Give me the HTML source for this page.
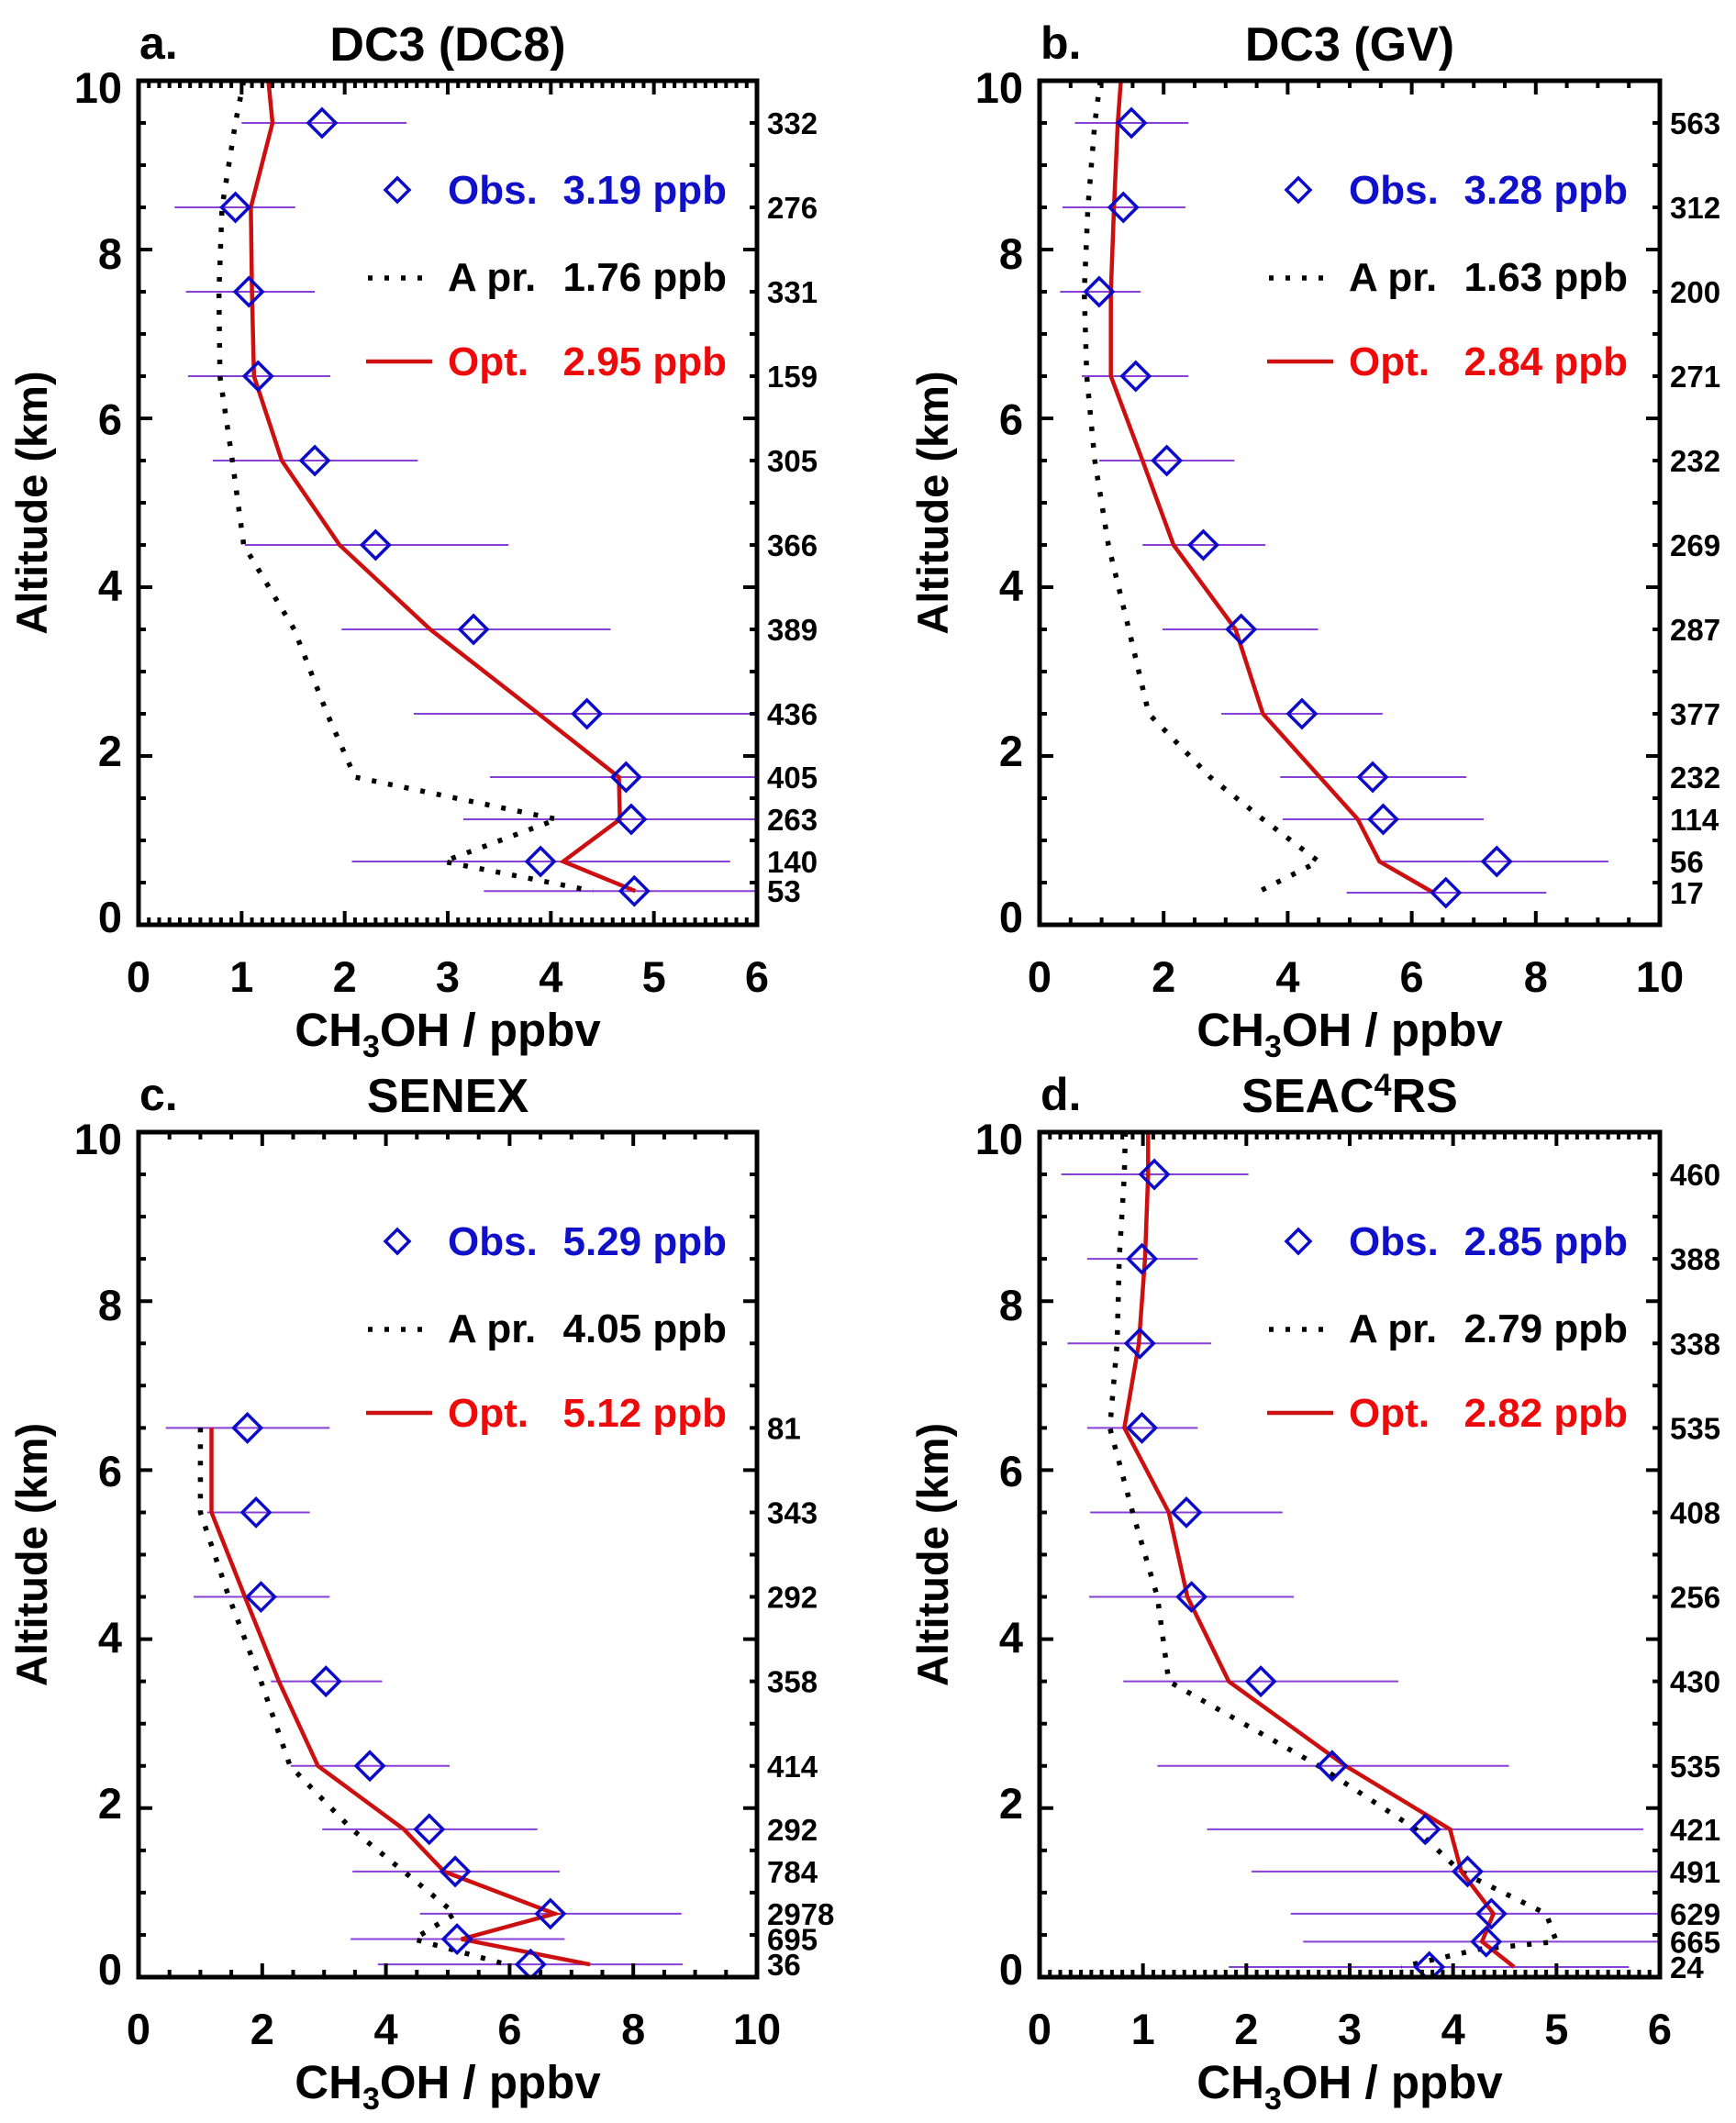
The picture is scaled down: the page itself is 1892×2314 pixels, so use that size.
<!DOCTYPE html>
<html><head><meta charset="utf-8"><title>CH3OH profiles</title>
<style>
html,body{margin:0;padding:0;background:#fff;}
svg{display:block;font-family:"Liberation Sans",Arial,sans-serif;font-weight:bold;}
</style></head>
<body>
<svg id="fig" width="1892" height="2314" viewBox="0 0 1892 2314" xmlns="http://www.w3.org/2000/svg"></svg>
<script>
// ---- Panel a: DC3 (DC8)
const aAlt = [9.5,8.5,7.5,6.5,5.5,4.5,3.5,2.5,1.75,1.25,0.75,0.4];
const aObs = [1.78,0.94,1.07,1.16,1.71,2.30,3.25,4.35,4.73,4.78,3.90,4.81];
const aLo  = [1.0,0.35,0.46,0.48,0.72,1.03,1.97,2.67,3.41,3.15,2.07,3.35];
const aHi  = [2.6,1.52,1.71,1.86,2.71,3.59,4.58,6.0,6.0,6.0,5.74,6.0];
const aN   = [332,276,331,159,305,366,389,436,405,263,140,53];
const aOptAlt = [10,9.5,8.5,7.5,6.5,5.5,4.5,3.5,2.5,1.75,1.25,0.75,0.4];
const aOpt = [1.26,1.30,1.09,1.10,1.12,1.39,1.95,2.83,3.88,4.66,4.67,4.12,4.82];
const aPriAlt = [10,9.5,8.5,7.5,6.5,5.5,4.5,3.5,2.5,1.75,1.25,0.75,0.4];
const aPri = [1.02,0.94,0.81,0.78,0.79,0.91,1.02,1.51,1.83,2.10,4.06,2.96,4.41];
const aLegend = ["3.19","1.76","2.95"];
// ---- Panel b: DC3 (GV)
const bAlt = [9.5,8.5,7.5,6.5,5.5,4.5,3.5,2.5,1.75,1.25,0.75,0.38];
const bObs = [1.48,1.35,0.96,1.55,2.05,2.64,3.25,4.23,5.37,5.54,7.37,6.55];
const bLo  = [0.57,0.37,0.33,0.68,0.96,1.66,1.98,2.93,3.88,3.92,5.54,4.95];
const bHi  = [2.40,2.35,1.63,2.40,3.14,3.64,4.49,5.53,6.88,7.16,9.17,8.17];
const bN   = [563,312,200,271,232,269,287,377,232,114,56,17];
const bOptAlt = [10,9.5,8.5,7.5,6.5,5.5,4.5,3.5,2.5,1.25,0.75,0.38];
const bOpt = [1.31,1.26,1.2,1.15,1.15,1.66,2.16,3.16,3.60,5.13,5.48,6.35];
const bPriAlt = [10,9.5,8.5,7.5,6.5,5.5,4.5,3.5,2.5,1.75,1.25,0.75,0.38];
const bPri = [0.98,0.89,0.78,0.72,0.76,0.89,1.11,1.44,1.76,2.75,3.6,4.5,3.5];
const bLegend = ["3.28","1.63","2.84"];
// ---- Panel c: SENEX
const cAlt = [6.5,5.5,4.5,3.5,2.5,1.75,1.25,0.75,0.45,0.15];
const cObs = [1.76,1.90,1.98,3.03,3.74,4.70,5.12,6.66,5.15,6.34];
const cLo  = [0.44,1.11,0.89,2.14,2.46,2.97,3.46,4.55,3.43,3.87];
const cHi  = [3.09,2.77,3.09,3.94,5.03,6.45,6.81,8.78,6.89,8.80];
const cN   = [81,343,292,358,414,292,784,2978,695,36];
const cOptAlt = [6.5,5.5,4.5,3.5,2.5,1.75,1.25,0.75,0.45,0.15];
const cOpt = [1.18,1.18,1.72,2.27,2.90,4.29,4.94,6.73,5.22,7.30];
const cPriAlt = [6.5,5.5,4.5,3.5,2.5,1.75,1.25,0.75,0.45,0.15];
const cPri = [1.0,1.0,1.46,1.98,2.45,3.45,4.29,5.12,4.45,5.95];
const cLegend = ["5.29","4.05","5.12"];
// ---- Panel d: SEAC4RS
const dAlt = [9.5,8.5,7.5,6.5,5.5,4.5,3.5,2.5,1.75,1.25,0.75,0.42,0.12];
const dObs = [1.11,0.99,0.97,0.99,1.42,1.47,2.14,2.83,3.73,4.14,4.37,4.32,3.77];
const dLo  = [0.21,0.46,0.27,0.46,0.49,0.48,0.81,1.14,1.62,2.05,2.43,2.55,1.83];
const dHi  = [2.02,1.53,1.66,1.53,2.35,2.46,3.47,4.54,5.84,6,6,6,5.70];
const dN   = [460,388,338,535,408,256,430,535,421,491,629,665,24];
const dOptAlt = [10,9.5,8.5,7.5,6.5,5.5,4.5,3.5,2.5,1.75,1.25,0.75,0.42,0.12];
const dOpt = [1.05,1.05,1.02,0.96,0.82,1.25,1.43,1.83,2.96,3.97,4.08,4.39,4.28,4.59];
const dPriAlt = [10,9.5,8.5,7.5,6.5,5.5,4.5,3.5,2.5,1.75,1.25,0.75,0.42,0.33,0.12];
const dPri = [0.83,0.82,0.77,0.75,0.68,0.90,1.14,1.25,2.70,3.64,4.07,4.90,5.0,4.25,3.5];
const dLegend = ["2.85","2.79","2.82"];

const NS = "http://www.w3.org/2000/svg";
const svg = document.getElementById("fig");
function mk(tag, attrs, parent){
  const e = document.createElementNS(NS, tag);
  for (const k in attrs) e.setAttribute(k, attrs[k]);
  (parent||svg).appendChild(e);
  return e;
}

function panel(p){
  const g = mk("g", {});
  
  
  const X = v => p.L + (v / p.xmax) * (p.R - p.L);
  const Y = v => p.B - (v / 10) * (p.B - p.T);
  const clipId = "clip" + p.id;
  const cp = mk("clipPath", {id: clipId}, g);
  mk("rect", {x: p.L, y: p.T, width: p.R - p.L, height: p.B - p.T}, cp);
  const plot = mk("g", {"clip-path": "url(#" + clipId + ")"}, g);

  for (let i = 0; i < p.alt.length; i++){
    const e = mk("line", {x1: X(p.lo[i]), x2: X(p.hi[i]), y1: Y(p.alt[i]), y2: Y(p.alt[i]), stroke: "#8a3fd6", "stroke-width": 2}, plot);
    
    
  }
  let d = "";
  for (let i = 0; i < p.priAlt.length; i++) d += (i ? "L" : "M") + X(p.pri[i]).toFixed(1) + " " + Y(p.priAlt[i]).toFixed(1);
  const pri = mk("path", {d: d, fill: "none", stroke: "#000", "stroke-width": 5.5, "stroke-dasharray": "5 13"}, plot);
  
  
  d = "";
  for (let i = 0; i < p.optAlt.length; i++) d += (i ? "L" : "M") + X(p.opt[i]).toFixed(1) + " " + Y(p.optAlt[i]).toFixed(1);
  const opt = mk("path", {d: d, fill: "none", stroke: "#cc1010", "stroke-width": 4.5, "stroke-linejoin": "miter"}, plot);
  
  
  for (let i = 0; i < p.alt.length; i++){
    const cx = X(p.obs[i]), cy = Y(p.alt[i]), s = 15;
    const dm = mk("path", {d: `M${cx-s} ${cy}L${cx} ${cy-s}L${cx+s} ${cy}L${cx} ${cy+s}Z`, fill: "none", stroke: "#0a0ac8", "stroke-width": 3.5}, plot);
    
    
  }
  let tk = "";
  const nx = Math.round(p.xmax / p.xminor);
  for (let i = 0; i <= nx; i++){
    const v = i * p.xminor, x = X(v);
    const major = Math.abs(v / p.xmajor - Math.round(v / p.xmajor)) < 1e-6;
    const len = major ? 15 : 8;
    tk += `M${x} ${p.B}V${p.B-len}M${x} ${p.T}V${p.T+len}`;
  }
  for (let i = 0; i <= 20; i++){
    const v = i * 0.5, y = Y(v);
    const len = (i % 4 === 0) ? 15 : 8;
    tk += `M${p.L} ${y}H${p.L+len}M${p.R} ${y}H${p.R-len}`;
  }
  const ticks = mk("path", {d: tk, stroke: "#000", "stroke-width": 4, fill: "none"}, g);
  
  
  const frame = mk("rect", {x: p.L, y: p.T, width: p.R - p.L, height: p.B - p.T, fill: "none", stroke: "#000", "stroke-width": 5}, g);
  
  

  for (let v = 0; v <= p.xmax + 1e-6; v += p.xmajor){
    const t = mk("text", {x: X(v), y: p.B + 73, "font-size": 47, "text-anchor": "middle", fill: "#000"}, g);
    t.textContent = String(v);
    
    
  }
  for (let v = 0; v <= 10; v += 2){
    const t = mk("text", {x: p.L - 18, y: Y(v) + 7 - (10 - v) * 1.6 + 17, "font-size": 47, "text-anchor": "end", fill: "#000"}, g);
    t.textContent = String(v);
    
    
  }
  for (let i = 0; i < p.alt.length; i++){
    const t = mk("text", {x: p.R + 11, y: Y(p.alt[i]) + 12, "font-size": 33, fill: "#000"}, g);
    t.textContent = String(p.n[i]);
    
    
  }
  const xt = mk("text", {x: (p.L + p.R) / 2, y: p.B + 132, "font-size": 51, "text-anchor": "middle", fill: "#000"}, g);
  xt.innerHTML = 'CH<tspan font-size="34" dy="12">3</tspan><tspan dy="-12">OH / ppbv</tspan>';
  
  
  const yc = p.L - 100, ym = (p.T + p.B) / 2;
  const yt = mk("text", {x: yc, y: ym, "font-size": 47, "text-anchor": "middle", transform: `rotate(-90 ${yc} ${ym})`, fill: "#000"}, g);
  yt.textContent = "Altitude (km)";
  
  
  const pl = mk("text", {x: p.L + 1, y: p.T - 24, "font-size": 50, fill: "#000"}, g);
  pl.textContent = p.id + ".";
  
  
  const ti = mk("text", {x: (p.L + p.R) / 2, y: p.T - 22, "font-size": 52, "text-anchor": "middle", fill: "#000"}, g);
  ti.innerHTML = p.title;
  
  

  const lx = p.L, ly = p.T;
  const rows = [ly + 134, ly + 229, ly + 321];
  const labels = ["Obs.", "A pr.", "Opt."];
  const colors = ["#1010c8", "#000", "#ee0a0a"];
  const leg = mk("g", {}, g);
  
  
  const s = 13, cx = lx + 282, cy = rows[0] - 15;
  const ld = mk("path", {d: `M${cx-s} ${cy}L${cx} ${cy-s}L${cx+s} ${cy}L${cx} ${cy+s}Z`, fill: "none", stroke: "#0a0ac8", "stroke-width": 3.5}, leg);
  
  
  const lp = mk("line", {x1: lx + 250, x2: lx + 320, y1: rows[1] - 14, y2: rows[1] - 14, stroke: "#000", "stroke-width": 5.5, "stroke-dasharray": "5 13"}, leg);
  
  
  const lo = mk("line", {x1: lx + 248, x2: lx + 320, y1: rows[2] - 15, y2: rows[2] - 15, stroke: "#cc1010", "stroke-width": 4.5}, leg);
  
  
  for (let r = 0; r < 3; r++){
    const t1 = mk("text", {x: lx + 337, y: rows[r], "font-size": 44, fill: colors[r]}, leg);
    t1.textContent = labels[r];
    
    
    const t2 = mk("text", {x: lx + 641, y: rows[r], "font-size": 44, "text-anchor": "end", fill: colors[r]}, leg);
    t2.textContent = p.legend[r] + " ppb";
    
    
  }
}

panel({id:"a", title:"DC3 (DC8)", L:151, R:825, T:88, B:1008, xmax:6, xmajor:1, xminor:0.1,
  alt:aAlt, obs:aObs, lo:aLo, hi:aHi, n:aN, optAlt:aOptAlt, opt:aOpt, priAlt:aPriAlt, pri:aPri, legend:aLegend});
panel({id:"b", title:"DC3 (GV)", L:1133, R:1809, T:88, B:1008, xmax:10, xmajor:2, xminor:0.5,
  alt:bAlt, obs:bObs, lo:bLo, hi:bHi, n:bN, optAlt:bOptAlt, opt:bOpt, priAlt:bPriAlt, pri:bPri, legend:bLegend});
panel({id:"c", title:"SENEX", L:151, R:825, T:1234, B:2155, xmax:10, xmajor:2, xminor:0.5,
  alt:cAlt, obs:cObs, lo:cLo, hi:cHi, n:cN, optAlt:cOptAlt, opt:cOpt, priAlt:cPriAlt, pri:cPri, legend:cLegend});
panel({id:"d", title:'SEAC<tspan font-size="34" dy="-18">4</tspan><tspan dy="18">RS</tspan>', L:1133, R:1809, T:1234, B:2155, xmax:6, xmajor:1, xminor:0.1,
  alt:dAlt, obs:dObs, lo:dLo, hi:dHi, n:dN, optAlt:dOptAlt, opt:dOpt, priAlt:dPriAlt, pri:dPri, legend:dLegend});
</script>
</body></html>
